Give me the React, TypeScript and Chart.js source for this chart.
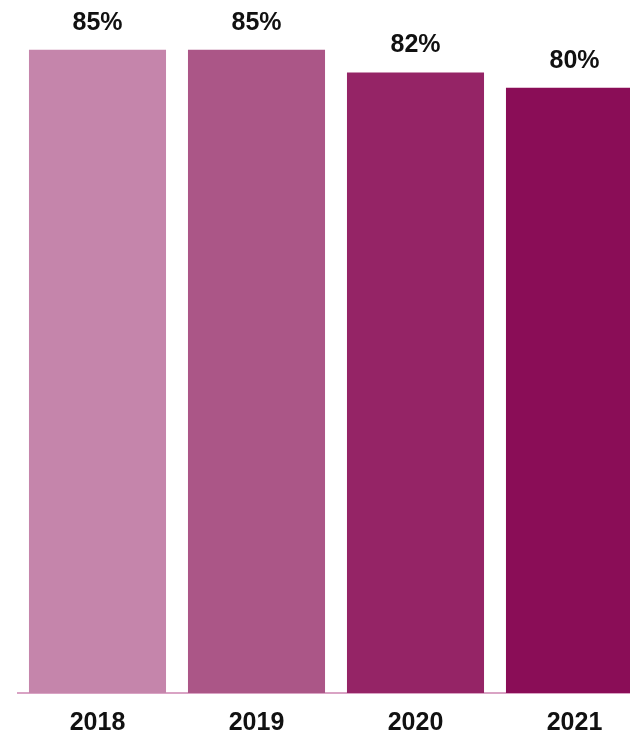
import React, { useEffect, useRef } from "react";
import { Chart, registerables } from "chart.js";

Chart.register(...registerables);

const years = ["2018", "2019", "2020", "2021"];
const values = [85, 85, 82, 80];
const barColors = ["#C585AB", "#AB5687", "#952466", "#8A0D57"];
const valueLabels = ["85%", "85%", "82%", "80%"];

const FONT = "'Liberation Sans', Arial, sans-serif";

const valueLabelPlugin = {
  id: "valueLabels",
  afterDatasetsDraw(chart: any) {
    const ctx = chart.ctx;
    const meta = chart.getDatasetMeta(0);
    ctx.save();
    ctx.font = `bold 25px ${FONT}`;
    ctx.fillStyle = "#111111";
    ctx.textAlign = "center";
    ctx.textBaseline = "middle";
    meta.data.forEach((bar: any, i: number) => {
      ctx.fillText(valueLabels[i], bar.x, bar.y - 27);
    });
    ctx.restore();
  },
};

export default function App() {
  const ref = useRef<HTMLCanvasElement | null>(null);
  useEffect(() => {
    if (!ref.current) return;
    const chart = new Chart(ref.current, {
      type: "bar",
      data: {
        labels: years,
        datasets: [
          {
            data: values,
            backgroundColor: barColors,
            borderWidth: 0,
            categoryPercentage: 1,
            barPercentage: 0.862,
          },
        ],
      },
      options: {
        responsive: false,
        animation: false,
        layout: { padding: { left: 18, right: 0, top: 12, bottom: 0 } },
        plugins: {
          legend: { display: false },
          tooltip: { enabled: false },
        },
        scales: {
          x: {
            grid: { display: false, drawTicks: false },
            border: { display: true, color: "#D9A3C4", width: 2 },
            ticks: {
              color: "#111111",
              padding: 18,
              font: { family: FONT, size: 25, weight: "bold", lineHeight: 1 },
            },
            afterFit: (scale: any) => {
              scale.height = 42;
            },
          },
          y: {
            display: false,
            min: 0,
            max: 90,
          },
        },
      },
      plugins: [valueLabelPlugin],
    });
    return () => chart.destroy();
  }, []);
  return (
    <div
      style={{
        position: "fixed",
        left: 0,
        top: 0,
        width: 630,
        height: 735,
        overflow: "hidden",
        background: "#ffffff",
      }}
    >
      <canvas ref={ref} width={654} height={735} style={{ display: "block" }} />
    </div>
  );
}
